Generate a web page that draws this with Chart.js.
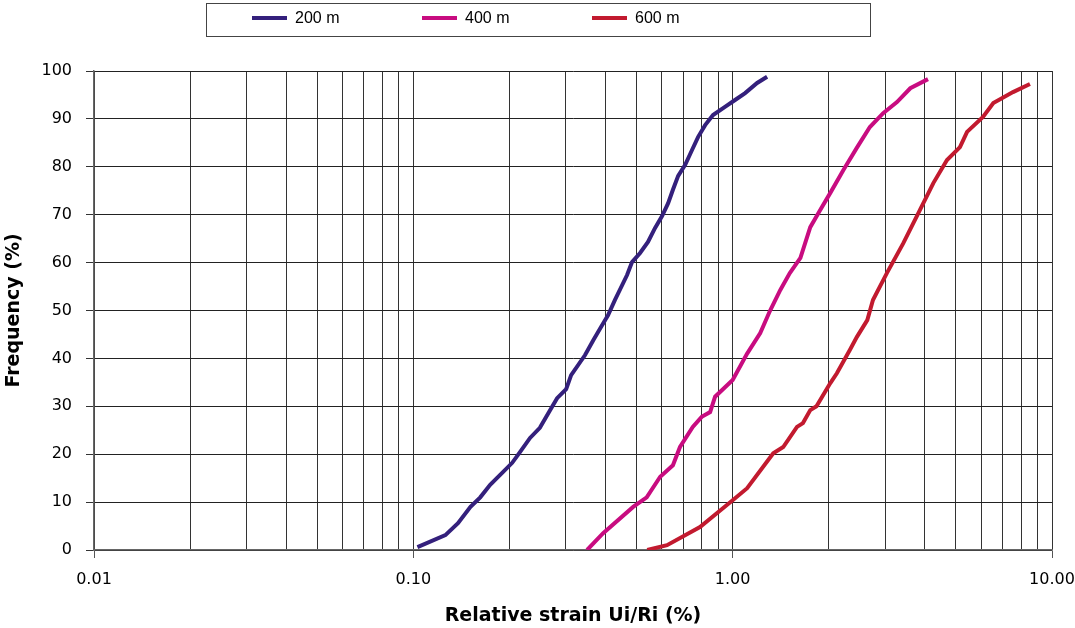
<!DOCTYPE html>
<html>
<head>
<meta charset="utf-8">
<script src="https://cdn.jsdelivr.net/npm/chart.js@4/dist/chart.umd.min.js"></script>
<style>
html,body{margin:0;padding:0;background:#fff;}
#wrap{width:1075px;height:628px;position:relative;}
</style>
</head>
<body>
<div id="wrap"><canvas id="c" width="1075" height="628"></canvas></div>
<script>
const seriesLabels = ['200 m', '400 m', '600 m'];
const seriesColors = ['#34207C', '#C80C80', '#C21A2F'];

const strain200 = [0.103,0.126,0.138,0.151,0.162,0.174,0.187,0.204,0.216,0.232,0.249,0.268,0.282,0.301,0.312,0.345,0.366,0.385,0.407,0.428,0.467,0.484,0.513,0.543,0.571,0.601,0.628,0.650,0.675,0.710,0.746,0.779,0.820,0.868,0.946,1.02,1.094,1.193,1.282];
const freq200   = [0.6,3.1,5.6,9.0,11.0,13.6,15.7,18.2,20.5,23.4,25.5,29.2,31.7,33.6,36.5,40.7,43.8,46.3,49.0,52.2,57.4,60.1,62.0,64.3,67.2,69.7,72.4,75.2,78.1,80.4,83.5,86.2,88.7,90.8,92.5,94.0,95.4,97.5,98.8];

const strain400 = [0.350,0.393,0.488,0.538,0.593,0.650,0.684,0.750,0.800,0.850,0.881,1.00,1.11,1.22,1.31,1.41,1.51,1.63,1.75,1.88,2.02,2.22,2.45,2.69,2.96,3.27,3.60,4.09];
const freq400   = [0.0,3.5,9.0,11.0,15.3,17.7,21.5,25.7,27.8,28.8,32.0,35.5,41.0,45.3,50.0,54.3,57.8,61.0,67.4,71.0,74.5,79.3,84.0,88.3,91.2,93.5,96.4,98.3];

const strain600 = [0.54,0.623,0.79,1.0,1.11,1.34,1.44,1.59,1.66,1.75,1.83,2.02,2.12,2.33,2.45,2.64,2.75,3.04,3.42,3.86,4.25,4.69,5.15,5.42,6.08,6.55,7.55,8.53];
const freq600   = [0.0,1.0,4.8,10.4,12.9,20.2,21.5,25.7,26.5,29.2,30.0,34.8,36.9,41.8,44.5,48.0,52.2,57.8,64.0,71.0,76.6,81.4,84.1,87.3,90.4,93.3,95.6,97.3];

const xDecades = [0.01, 0.1, 1];
const xMultipliers = [1,2,3,4,5,6,7,8,9];
const xMajorTicks = [0.01, 0.1, 1, 10];
const yTicks = [0,10,20,30,40,50,60,70,80,90,100];

const xTickValues = [];
xDecades.forEach(d => xMultipliers.forEach(m => xTickValues.push(+(d*m).toPrecision(3))));
xTickValues.push(10);

function pts(xs, ys){ return xs.map((x,i)=>({x:x, y:ys[i]})); }
const allStrain = [strain200, strain400, strain600];
const allFreq = [freq200, freq400, freq600];

const isMajor = v => xMajorTicks.some(m => Math.abs(m - v) < 1e-9);

const legendPlugin = {
  id: 'boxLegend',
  afterDraw(chart){
    const ctx = chart.ctx;
    ctx.save();
    ctx.strokeStyle = '#444';
    ctx.lineWidth = 1;
    ctx.strokeRect(206.5, 3.5, 664, 33);
    const starts = [252, 422, 592];
    chart.data.datasets.forEach((ds, i) => {
      const x = starts[i];
      ctx.strokeStyle = ds.borderColor;
      ctx.lineWidth = 4;
      ctx.beginPath();
      ctx.moveTo(x, 18);
      ctx.lineTo(x + 35, 18);
      ctx.stroke();
      ctx.fillStyle = '#000';
      ctx.font = '16px "Liberation Sans Narrow", "Liberation Sans", Arial, sans-serif';
      ctx.textBaseline = 'middle';
      ctx.textAlign = 'left';
      ctx.fillText(ds.label, x + 43, 19);
    });
    ctx.restore();
  }
};

const tickFont = {family: '"DejaVu Sans", sans-serif', size: 16};
const titleFont = {family: '"DejaVu Sans", sans-serif', size: 19, weight: 'bold'};

new Chart(document.getElementById('c'), {
  type: 'line',
  data: {
    datasets: seriesLabels.map((lab, i) => ({
      label: lab,
      data: pts(allStrain[i], allFreq[i]),
      borderColor: seriesColors[i],
      backgroundColor: seriesColors[i],
      borderWidth: 4,
      pointRadius: 0,
      tension: 0,
      fill: false
    }))
  },
  options: {
    responsive: false,
    animation: false,
    devicePixelRatio: 1,
    layout: {padding: {top: 71, right: 23, left: 0, bottom: 0}},
    plugins: {legend: {display: false}, tooltip: {enabled: false}},
    scales: {
      x: {
        type: 'logarithmic',
        min: 0.01, max: 10,
        afterFit(s){ s.height = 78; s.paddingLeft = 0; s.paddingRight = 0; },
        afterBuildTicks(s){ s.ticks = xTickValues.map(v => ({value: v, major: isMajor(v)})); },
        ticks: {
          autoSkip: false, maxRotation: 0, color: '#000', font: tickFont, padding: 12,
          callback: (v) => isMajor(v) ? Number(v).toFixed(2) : ''
        },
        grid: {
          color: '#333', lineWidth: 1, tickLength: 8,
          tickColor: ctx => (ctx.tick && isMajor(ctx.tick.value)) ? '#555' : 'rgba(0,0,0,0)'
        },
        border: {color: '#666', width: 1.5},
        title: {display: true, text: 'Relative strain Ui/Ri (%)', color: '#000', font: titleFont, padding: {top: 0, bottom: 1}}
      },
      y: {
        min: 0, max: 100,
        afterFit(s){ s.width = 94; s.paddingTop = 0; s.paddingBottom = 0; },
        afterBuildTicks(s){ s.ticks = yTicks.map(v => ({value: v})); },
        ticks: {color: '#000', font: tickFont, padding: 14},
        grid: {color: '#222', lineWidth: 1, tickLength: 8, tickColor: '#333'},
        border: {color: '#666', width: 1.5},
        title: {display: true, text: 'Frequency (%)', color: '#000', font: titleFont, padding: {top: 3, bottom: 0}}
      }
    }
  },
  plugins: [legendPlugin]
});
</script>
</body>
</html>
